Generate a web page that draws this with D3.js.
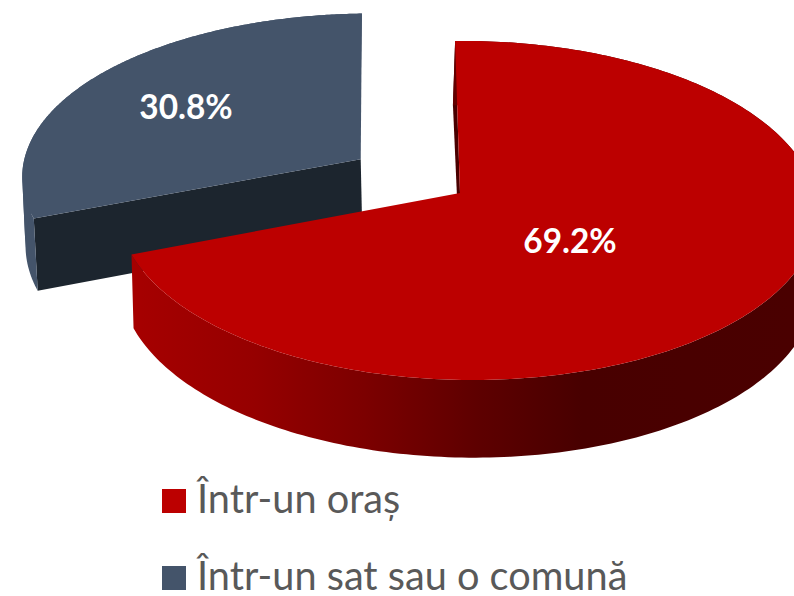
<!DOCTYPE html>
<html><head><meta charset="utf-8">
<script src="https://cdnjs.cloudflare.com/ajax/libs/d3/7.8.5/d3.min.js"></script>
<style>html,body{margin:0;padding:0;background:#fff;overflow:hidden}svg{display:block}</style>
</head><body><svg id="c" width="794" height="596"></svg>
<script>
const categories = ["Într-un oraș", "Într-un sat sau o comună"];
const values = [69.2, 30.8];
const labels = ["69.2%", "30.8%"];
const faceColors = ["#BC0000", "#44546A"];
const wallColors = ["#4A0000", "#1C252E"];

const W = 794, H = 596;
const svg = d3.select("#c");
const defs = svg.append("defs");

// perspective model of a tilted disc
const apex = [460, 193], sx = 347.5, sy = 167.7, kT = 0.103, kX = -0.021, shear = -4;
const explodeDist = [0, 0.345], vanish = 0.006, vanishX = 470;
const startAngle = -0.004;
const sliceTransform = ["", "matrix(1.02,0,0.0205,1,-12.6,-2)"];

const pie = d3.pie().sort(null).value(d => d).startAngle(startAngle).endAngle(startAngle + 2 * Math.PI);
const arcs = pie(values);

function project(x, t) {
  const w = 1 + kT * t + kX * x;
  return [apex[0] + (sx * x + shear * t) / w, apex[1] - sy * t / w, w];
}
function lower(p) {
  const d = 73 + (1 - p[2]) * 45 + (p[2] > 1 ? (1 - p[2]) * 40 : 0);
  const back = p[2] > 1 ? (p[2] - 1) * 22 : 0;
  return [p[0] + (vanishX - p[0]) * vanish - back, p[1] + d];
}
function planeOffset(a, dist) {
  const mid = (a.startAngle + a.endAngle) / 2;
  return [Math.sin(mid) * dist, Math.cos(mid) * dist];
}
const line = d3.line();

const grad = defs.append("linearGradient").attr("id", "redSide").attr("gradientUnits", "userSpaceOnUse")
  .attr("x1", 133).attr("x2", 794).attr("y1", 0).attr("y2", 0);
[[0, "#A60000"], [0.18, "#960000"], [0.35, "#7C0000"], [0.52, "#5E0000"], [0.68, "#480000"], [1, "#4A0000"]]
  .forEach(s => grad.append("stop").attr("offset", s[0]).attr("stop-color", s[1]));
const sideFills = ["url(#redSide)", "#44546A"];

function geom(a, i) {
  const o = planeOffset(a, explodeDist[i]);
  const n = 240;
  const rim = d3.range(n + 1).map(j => {
    const th = a.startAngle + (a.endAngle - a.startAngle) * j / n;
    return project(Math.sin(th) + o[0], Math.cos(th) + o[1]);
  });
  const c = project(o[0], o[1]);
  return { rim, c };
}
const G = arcs.map(geom);

// split the rim where it turns round horizontally, so each band is a simple shape
function bands(rim) {
  const cuts = [0, d3.scan(rim, (a, b) => a[0] - b[0]), d3.scan(rim, (a, b) => b[0] - a[0]), rim.length - 1];
  const sorted = Array.from(new Set(cuts)).sort(d3.ascending);
  return d3.pairs(sorted).map(([s, e]) => rim.slice(s, e + 1));
}

function drawSlice(i) {
  const g = G[i], rim = g.rim, c = g.c;
  const gp = svg.append("g").attr("transform", sliceTransform[i]);
  const cLow = lower(c);
  const first = rim[0];
  // the one cut wall that faces the viewer
  gp.append("path").attr("d", line([[first[0], first[1]], lower(first), cLow, [c[0], c[1]]]) + "Z").attr("fill", wallColors[i]);
  // side strip along the rim
  gp.selectAll("path.strip").data(bands(rim)).join("path").attr("class", "strip")
    .attr("d", b => line(b.map(p => [p[0], p[1]]).concat(b.map(lower).reverse())) + "Z")
    .attr("fill", sideFills[i]);
  // top face
  gp.append("path").attr("d", line([[c[0], c[1]]].concat(rim.map(p => [p[0], p[1]]))) + "Z").attr("fill", faceColors[i]);
}
drawSlice(1);
drawSlice(0);

// data labels
const labelPos = [[570, 241], [186, 107]];
svg.selectAll("text.lab").data(labels).join("text").attr("class", "lab")
  .attr("x", (d, i) => labelPos[i][0]).attr("y", (d, i) => labelPos[i][1])
  .attr("dy", "0.36em").attr("text-anchor", "middle")
  .attr("font-family", "Lato,sans-serif").attr("font-weight", 700).attr("font-size", 33.4)
  .attr("fill", "#fff").text(d => d);

// legend
const legendY = d3.scalePoint().domain(categories).range([513, 590]);
const leg = svg.selectAll("g.leg").data(categories).join("g").attr("class", "leg");
leg.append("rect").attr("x", 162).attr("y", d => legendY(d) - 24).attr("width", 24).attr("height", 24)
  .attr("fill", (d, i) => faceColors[i]);
leg.append("text").attr("x", 197).attr("y", d => legendY(d))
  .attr("font-family", "Lato,sans-serif").attr("font-size", 39.7).attr("fill", "#595959").text(d => d);
</script></body></html>
